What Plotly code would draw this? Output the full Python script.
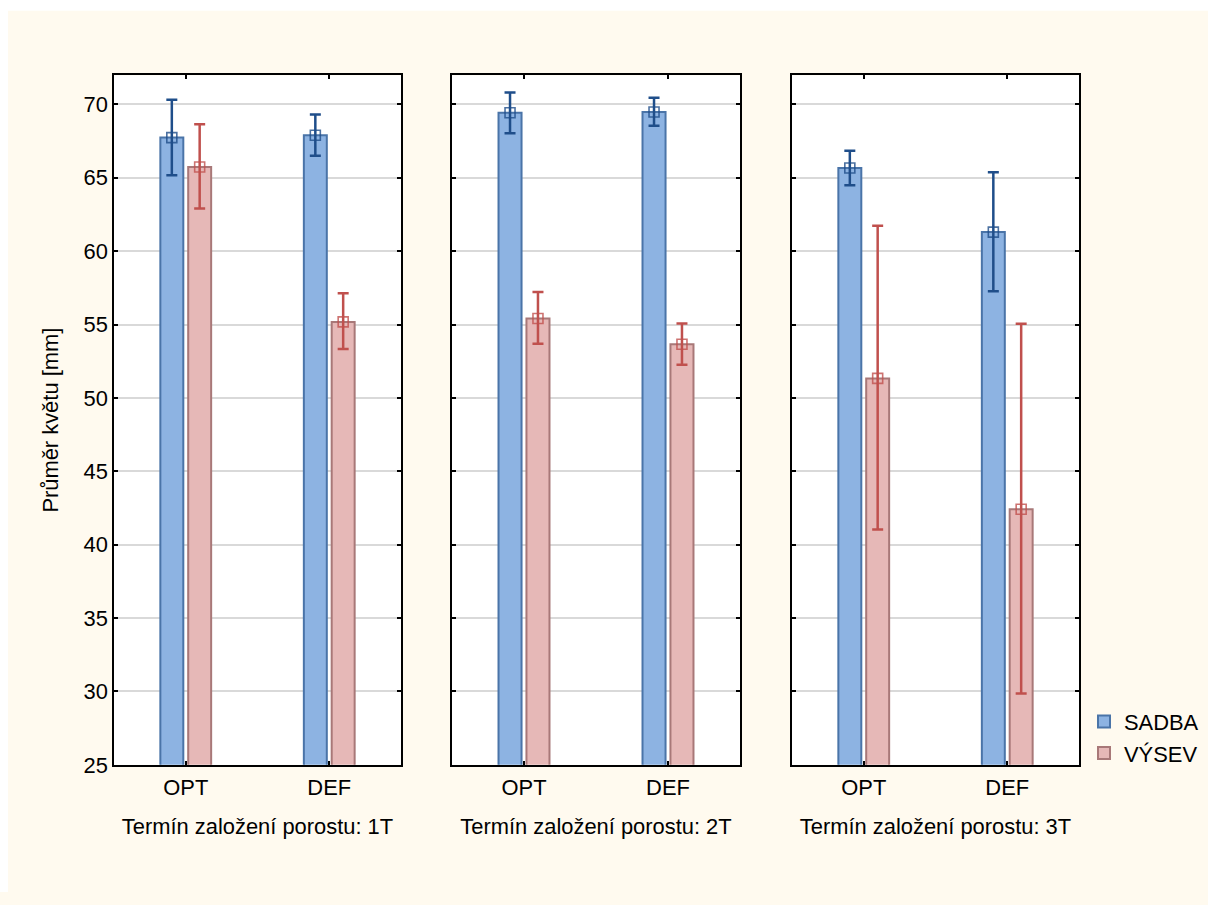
import plotly.graph_objects as go

categories = ["OPT", "DEF"]
panels = ["Termín založení porostu: 1T", "Termín založení porostu: 2T", "Termín založení porostu: 3T"]
series_names = ["SADBA", "VÝSEV"]

sadba_mean = [[67.74, 67.90], [69.43, 69.48], [65.67, 61.30]]
sadba_upper = [[70.32, 69.32], [70.82, 70.45], [66.85, 65.38]]
sadba_lower = [[65.17, 66.51], [68.03, 68.55], [64.49, 57.27]]

vysev_mean = [[65.74, 55.18], [55.41, 53.66], [51.33, 42.42]]
vysev_upper = [[68.64, 57.13], [57.22, 55.07], [61.73, 55.05]]
vysev_lower = [[62.90, 53.33], [53.69, 52.26], [41.04, 29.87]]

y_ticks = [25, 30, 35, 40, 45, 50, 55, 60, 65, 70]

W, H = 1208, 905
CREAM = "#FFFAEF"
BLUE_FILL = "#8DB3E2"
BLUE_LINE = "#4A74A8"
BLUE_DARK = "#1F4E8A"
RED_FILL = "#E6B8B7"
RED_LINE = "#A87878"
RED_DARK = "#C0504D"
FS = 21.9

# panel edges in figure pixels
panel_px = [(114, 401), (452, 740), (792, 1079)]
y_top_px, y_bot_px = 76.6, 776

shift = 0.097
bar_w = 0.16

fig = go.Figure()

series = [
    (series_names[0], sadba_mean, sadba_upper, sadba_lower, -shift, BLUE_FILL, BLUE_LINE, BLUE_DARK),
    (series_names[1], vysev_mean, vysev_upper, vysev_lower, shift, RED_FILL, RED_LINE, RED_DARK),
]

for p in range(3):
    xa = "x" if p == 0 else f"x{p+1}"
    ya = "y" if p == 0 else f"y{p+1}"
    for name, mean, up, lo, sh, fill, line, dark in series:
        xs = [i + sh for i in range(len(categories))]
        m = mean[p]
        fig.add_trace(go.Bar(
            x=xs, y=m, width=bar_w, base=0,
            marker=dict(color=fill, line=dict(color=line, width=2)),
            name=name, legendgroup=name, showlegend=(p == 0),
            xaxis=xa, yaxis=ya, hoverinfo="skip",
        ))
        fig.add_trace(go.Scatter(
            x=xs, y=m, mode="markers",
            marker=dict(symbol="square-open", size=10, color=dark, line=dict(width=1.6, color=dark), opacity=0.8),
            error_y=dict(type="data", symmetric=False,
                         array=[u - v for u, v in zip(up[p], m)],
                         arrayminus=[v - l for v, l in zip(m, lo[p])],
                         color=dark, thickness=2.5, width=5.5),
            showlegend=False, legendgroup=name,
            xaxis=xa, yaxis=ya, hoverinfo="skip",
        ))

layout = dict(
    width=W, height=H,
    paper_bgcolor=CREAM, plot_bgcolor="white",
    margin=dict(l=0, r=0, t=0, b=0),
    barmode="overlay",
    font=dict(family="Liberation Sans, Arial, sans-serif", size=FS, color="black"),
    showlegend=True,
    legend=dict(x=1084 / W, y=1 - 711 / H, xanchor="left", yanchor="top",
                bgcolor="rgba(0,0,0,0)", font=dict(size=FS), tracegroupgap=0,
                itemwidth=30),
    shapes=[
        dict(type="rect", xref="paper", yref="paper", x0=0, x1=1, y0=1 - 11 / H, y1=1,
             fillcolor="white", line=dict(width=0), layer="above"),
        dict(type="rect", xref="paper", yref="paper", x0=0, x1=8 / W, y0=0, y1=1,
             fillcolor="white", line=dict(width=0), layer="above"),
    ],
)

for p in range(3):
    xk = "xaxis" if p == 0 else f"xaxis{p+1}"
    yk = "yaxis" if p == 0 else f"yaxis{p+1}"
    x0, x1 = panel_px[p]
    layout[xk] = dict(
        domain=[x0 / W, x1 / W], anchor="y" if p == 0 else f"y{p+1}",
        range=[-0.5, 1.5], tickvals=list(range(len(categories))), ticktext=categories,
        ticks="inside", ticklen=4, tickcolor="black", tickwidth=1.5,
        showline=True, linecolor="black", linewidth=1.5, mirror="allticks",
        showgrid=False, zeroline=False, tickfont=dict(size=FS), ticklabelstandoff=2,
        title=dict(text=panels[p], font=dict(size=FS), standoff=20),
    )
    layout[yk] = dict(
        domain=[1 - y_bot_px / H, 1 - y_top_px / H], anchor="x" if p == 0 else f"x{p+1}",
        range=[25, 71.97], tickvals=y_ticks,
        ticks="inside", ticklen=4, tickcolor="black", tickwidth=1.5,
        showline=True, linecolor="black", linewidth=1.5, mirror="allticks",
        showgrid=True, gridcolor="#D9D9D9", gridwidth=1.5, zeroline=False,
        showticklabels=(p == 0), tickfont=dict(size=FS),
        title=dict(text="Průměr květu [mm]" if p == 0 else "", font=dict(size=FS), standoff=19),
    )

fig.update_layout(**layout)
fig.write_html(
    "out.html",
    config={"displayModeBar": False},
    post_script=(
        "document.body.style.margin='0';document.body.style.overflow='hidden';"
        "document.body.style.background='" + CREAM + "';"
        "document.documentElement.style.background='" + CREAM + "';"
    ),
)
